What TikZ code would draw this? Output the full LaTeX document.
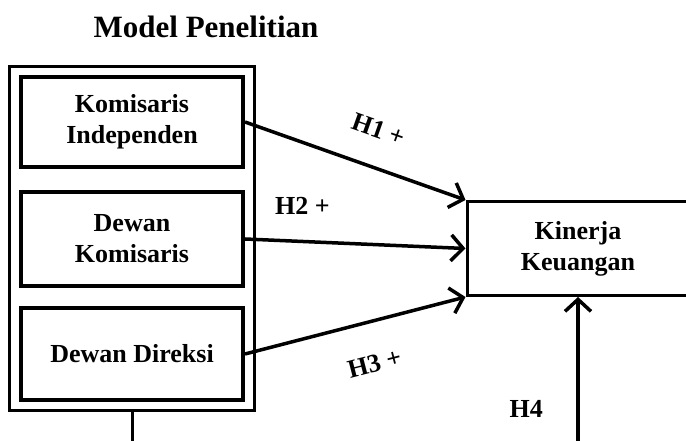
\documentclass[tikz,border=0pt]{standalone}
\usepackage{fontspec}
\setmainfont{Liberation Serif}
\usepackage{tikz}
\usetikzlibrary{arrows.meta,positioning,fit}

\begin{document}
\begin{tikzpicture}[x=1pt,y=1pt,every node/.style={font=\fontsize{26}{31}\selectfont\bfseries},
  var/.style={draw,line width=4pt,minimum width=222pt,align=center},
  arr/.style={-{Straight Barb[length=12pt,width=26pt]},line width=3.5pt}]
\useasboundingbox (0,0) rectangle (686,441);
\node (title) at (206,414) {\fontsize{31}{37}\selectfont Model Penelitian};
% corporate governance variables
\node[var,minimum height=90pt] (ki) at (132,319) {Komisaris\\Independen};
\node[var,minimum height=94pt,below=21pt of ki] (dk) {Dewan\\Komisaris};
\node[var,minimum height=92pt,below=18pt of dk] (dd) {Dewan Direksi};
\node[draw,line width=3pt,fit=(ki)(dd),inner xsep=9.5pt,inner ysep=8.5pt] (gov) {};
% dependent variable
\node[draw,line width=3pt,minimum width=222pt,minimum height=94pt,align=center] (kk) at (578,192.5) {Kinerja\\Keuangan};
\coordinate[below=146pt of kk.south] (h4src);
\coordinate[below=32pt of gov.south] (govend);
\draw[arr] (ki.east)--node[sloped,above=24pt,pos=0.55] (h1) {H1 +} (kk.north west);
\draw[arr] (dk.east)--node[above=22pt,pos=0.26] (h2) {H2 +} (kk.west);
\draw[arr] (dd.east)--node[sloped,below=28pt,pos=0.54] (h3) {H3 +} (kk.south west);
\draw[arr] (h4src)--node[left=30pt,pos=0.23] (h4) {H4} (kk.south);
\draw[line width=3pt] (gov.south)--(govend);
\end{tikzpicture}
\end{document}
